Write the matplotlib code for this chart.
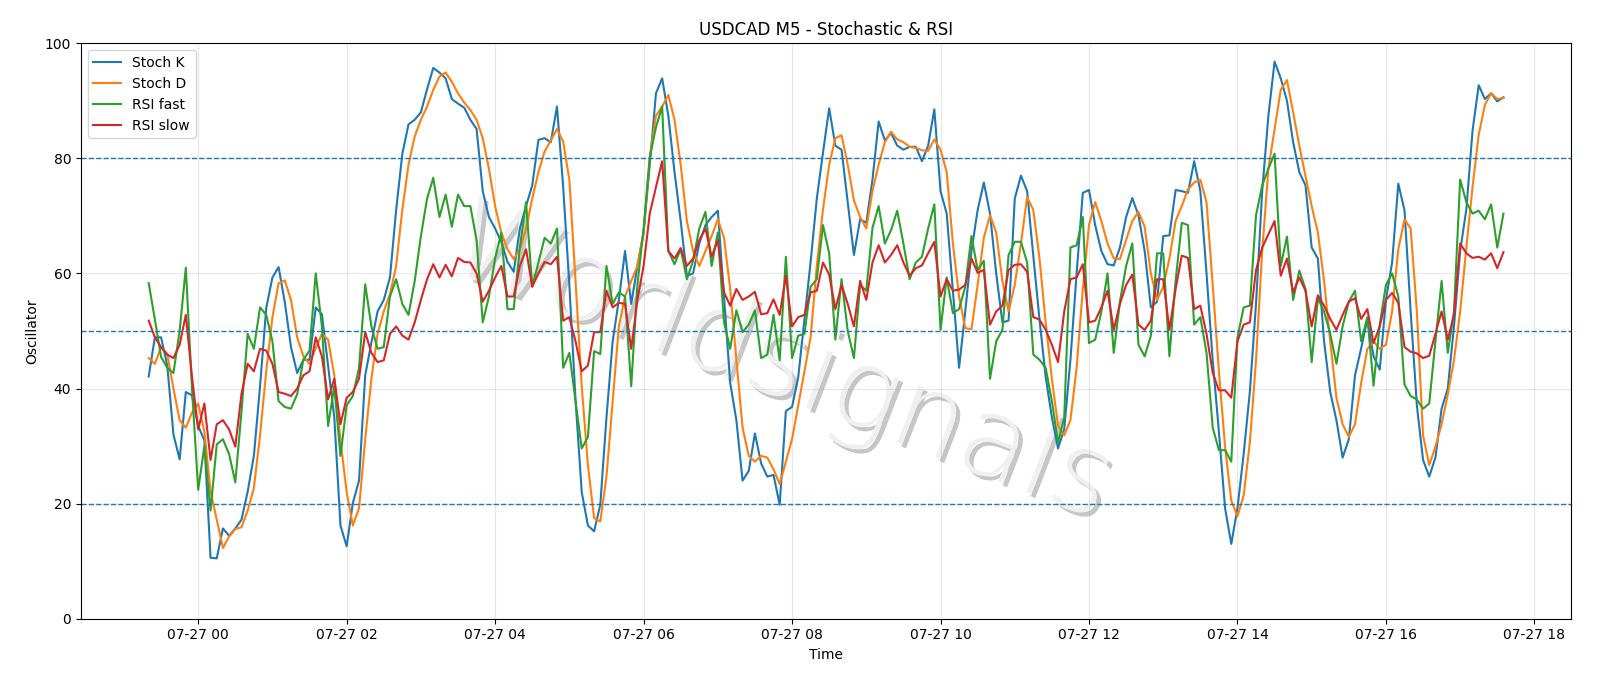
import pandas as pd
import numpy as np
import matplotlib
matplotlib.use('Agg')
import matplotlib.pyplot as plt
import matplotlib.dates as mdates
import matplotlib.patheffects as pe

# M5 bars, first bar 07-26 23:20
start_time = '2020-07-26 23:20'

stoch_k = [
    42.1, 48.9, 48.9, 44, 32, 27.7, 39.4, 38.8, 33.5, 31,
    10.6, 10.5, 15.7, 14.4, 15.7, 17.2, 22.1, 28.3, 40.4, 54,
    59.3, 61.1, 55, 47.2, 42.7, 45, 45, 54.1, 52.9, 44,
    35, 16.2, 12.6, 20.1, 24, 42.3, 48, 53.4, 55.4, 59.3,
    71, 80.8, 85.9, 86.7, 88, 92, 95.7, 94.9, 93.9, 90.3,
    89.5, 88.8, 86.7, 85.1, 74.3, 69.8, 67.8, 65.5, 62, 60.3,
    67.8, 71.7, 75.3, 83.2, 83.5, 82.8, 89, 75, 58, 38,
    22, 16.2, 15.2, 19.8, 35, 48.2, 55.4, 63.9, 54.7, 61.3,
    67.1, 78.9, 91.3, 93.9, 87.4, 77.6, 69.1, 59.6, 60, 65.2,
    68.4, 69.8, 70.9, 56, 41, 34.5, 24, 25.7, 32.2, 27,
    24.7, 25, 19.8, 36.1, 36.8, 42, 52, 62, 73, 81,
    88.7, 82.2, 81.5, 72.4, 63.2, 69.4, 68.8, 76.3, 86.4, 83.1,
    84.4, 82.2, 81.5, 82, 82, 79.5, 82.2, 88.5, 74.3, 70.4,
    57, 43.6, 53.4, 63.9, 71, 75.8, 70.4, 60, 51.5, 51.8,
    73, 77, 74.3, 63, 52, 42, 35, 29.6, 33, 45,
    60, 74, 74.5, 68.4, 63.9, 61.6, 61.4, 64.5, 69.8, 73.1,
    70.1, 63.9, 54.1, 55.1, 66.5, 66.6, 74.5, 74.3, 74, 79.5,
    74.3, 60, 44.9, 32.5, 19.2, 13, 19.2, 28.6, 39.4, 54.7,
    74.3, 87.4, 96.8, 93.9, 90, 82.8, 77.6, 75.3, 64.5, 62.6,
    48.2, 39.4, 34.5, 28, 31.2, 42.3, 47, 52.1, 45.6, 43.3,
    55.4, 61.9, 75.6, 71, 53.4, 37.1, 27.6, 24.7, 28, 36.5,
    40, 50.8, 63.9, 71.1, 84.8, 92.7, 90.3, 91.3, 89.9, 90.6,
]

stoch_d = [
    45.3, 44.3, 47.2, 46, 40, 34.5, 33.2, 35.8, 37.4, 32.5,
    22.1, 17.2, 12.3, 14.3, 15.6, 15.9, 18.8, 22.7, 31.9, 43,
    52.4, 58.3, 58.8, 55.4, 48.9, 45.6, 44.3, 47, 49.5, 48.5,
    42.3, 31, 22, 16.2, 19.2, 31.2, 41.7, 49.5, 53.4, 56.4,
    61.3, 71.1, 78.9, 83.8, 86.7, 89, 91.9, 94.2, 94.9, 93.3,
    91.3, 89.7, 88.4, 86.7, 83.5, 78.2, 71.7, 67.1, 64.2, 62.5,
    64.2, 67.8, 73, 77.6, 81.2, 83.1, 85.1, 82.9, 76.3, 58.7,
    40.4, 26.7, 17.5, 16.9, 24.7, 37.8, 50.8, 56, 58.7, 61.3,
    67.1, 80.2, 87.4, 89, 91, 86.7, 78.9, 69.1, 63.9, 61.3,
    63.9, 66.5, 69.4, 66.2, 57.3, 45, 33.2, 28.3, 27.3, 28.3,
    28, 26, 23.4, 27.3, 31.2, 37.1, 43, 48.9, 61.3, 71.1,
    78.9, 83.5, 84, 78.9, 72.7, 69.8, 67.8, 74.3, 78.9, 82.8,
    84.6, 83.3, 82.8, 82, 81.8, 81.4, 81.3, 83.3, 81.5, 77.6,
    65.2, 56, 50.5, 50.3, 58, 66.2, 70.1, 67.1, 58.7, 53.4,
    58, 65.2, 73.3, 71, 62.6, 51.5, 41.7, 33.5, 31.9, 34.5,
    43.6, 57.3, 68.4, 72.4, 69.1, 65.2, 62.6, 62.5, 65.8, 69.1,
    70.7, 68.1, 60, 55.4, 57.7, 62.6, 69.1, 71.7, 74.6, 75.8,
    76.3, 72.4, 58, 43, 29.9, 20.5, 17.8, 21.4, 30.6, 44.9,
    63.9, 78.2, 85.1, 91.9, 93.6, 88, 82.2, 76.9, 71.7, 67.1,
    58.7, 48.2, 38.4, 33.8, 31.6, 33.8, 41, 46.9, 48.2, 46.9,
    47.6, 53.4, 64.2, 69.4, 67.8, 53.4, 31.9, 26.7, 29.9, 33.8,
    39, 44.9, 53.4, 64.5, 75, 84.1, 89.3, 91.3, 90.3, 90.5,
]

rsi_fast = [
    58.3, 52, 45.5, 43.6, 42.7, 50, 61, 40, 22.4, 30,
    18.8, 30.3, 31.2, 28.6, 23.7, 36, 49.5, 46.9, 54.1, 52.8,
    48.2, 37.8, 36.8, 36.5, 39, 45, 46.6, 60, 50.8, 33.5,
    40.4, 28.3, 37.1, 38.7, 43.6, 58.1, 50.8, 46.9, 47.2, 56,
    59, 54.7, 52.8, 58.7, 66.5, 73, 76.6, 69.8, 73.7, 68.1,
    73.7, 71.7, 71.7, 65.8, 51.5, 56, 62.6, 67.1, 53.8, 53.8,
    64.5, 72.4, 57.7, 61.9, 66.2, 65.2, 67.8, 43.6, 46.2, 37.8,
    29.6, 31.6, 46.5, 46, 61.3, 54.7, 56.7, 56, 40.4, 58,
    67.8, 80.2, 85.4, 89, 63.9, 61.6, 64.2, 59, 62.2, 67.8,
    70.7, 61.3, 67.1, 51.5, 46.9, 53.6, 49.8, 51.1, 53.6, 45.3,
    45.9, 52.8, 44.9, 62.9, 45.3, 49.2, 49.5, 57.7, 59, 68.4,
    63.5, 48.5, 59, 50, 45.3, 58, 57, 67.9, 71.7, 65.2,
    67.5, 70.9, 65.2, 59, 61.9, 62.9, 67.8, 72, 50.2, 59.3,
    53.1, 53.8, 57.7, 66.5, 60.6, 62.2, 41.7, 48.2, 50.2, 63.2,
    65.5, 65.5, 61.9, 45.9, 45, 43.6, 37.8, 30.6, 35, 64.5,
    64.9, 69.8, 47.9, 48.5, 53.4, 60, 46.2, 55.1, 61.3, 65.2,
    47.6, 45.6, 49.2, 63.5, 63.5, 45.6, 58.7, 68.8, 68.4, 51.1,
    52.4, 46.2, 33.2, 29.3, 29.3, 27.3, 48.9, 54.1, 54.4, 70.1,
    75.3, 78.2, 80.8, 61.3, 66.4, 55.4, 60.5, 57.3, 44.6, 55.7,
    53.4, 49.5, 44.3, 50.8, 55.1, 57, 48.2, 52.4, 40.5, 51.1,
    58, 60, 56, 40.7, 38.7, 38.1, 36.5, 37.4, 48.2, 58.7,
    46.2, 53.4, 76.3, 72.4, 70.4, 70.9, 69.4, 72, 64.5, 70.4,
]

rsi_slow = [
    51.8, 48.9, 47.2, 45.9, 45.3, 47.6, 52.8, 42, 32.9, 37.4,
    27.6, 33.8, 34.5, 32.9, 29.9, 39.1, 44.3, 43, 46.9, 46.6,
    44.3, 39.4, 39.1, 38.7, 40, 42.3, 43, 48.9, 45.6, 38.1,
    41.7, 33.8, 38.4, 39.4, 41.7, 49.8, 46.2, 44.6, 44.9, 49.5,
    50.8, 49.2, 48.5, 51.5, 55.4, 59, 61.6, 59.3, 61.5, 59.5,
    62.7, 62, 61.9, 60, 55.1, 57, 59.3, 61.3, 56, 56,
    61.3, 64.2, 57.7, 60, 62, 61.6, 62.9, 51.8, 52.4, 48.2,
    43, 44, 49.8, 49.8, 57, 54.1, 54.9, 54.7, 46.9, 55.4,
    61.3, 70.4, 75, 79.5, 63.9, 62.6, 64.4, 61.3, 62.6, 65.8,
    67.8, 62.9, 65.8, 56.7, 54.4, 57.3, 55.4, 56, 56.8, 52.9,
    53.1, 55.5, 52.8, 59.6, 50.8, 52.4, 52.8, 56.7, 57, 61.9,
    59.8, 53.8, 58, 54.7, 50.8, 58.7, 55.4, 61.9, 64.9, 61.9,
    63.2, 64.9, 61.9, 59.6, 60.9, 61.4, 63.5, 65.5, 56, 59,
    57, 57.2, 58, 62.6, 60.1, 60.6, 51.1, 53.4, 54.4, 60.6,
    61.5, 61.6, 60.3, 52.4, 52, 50.2, 47.6, 44.6, 53.4, 59,
    59.3, 61.6, 51.5, 51.8, 54.1, 57, 50.2, 54.7, 58, 59.8,
    51.1, 50.2, 51.8, 59, 59, 50.2, 57.3, 63.1, 62.7, 53.8,
    54.4, 49.5, 42.7, 39.7, 39.7, 38.4, 48.2, 51.1, 51.5, 60.6,
    64.5, 66.8, 69.1, 59.6, 62.6, 56.7, 59.3, 57, 50.8, 56.2,
    54.4, 52.1, 50.2, 52.8, 55.1, 55.7, 52.1, 53.8, 47.9, 50.8,
    55.4, 56.6, 54.9, 47.2, 46.4, 46.1, 45.3, 45.7, 49.5, 53.4,
    48.5, 52.8, 65.2, 63.5, 62.7, 62.9, 62.4, 63.5, 60.9, 63.7,
]

levels = [80, 50, 20]

times = pd.date_range(start_time, periods=len(stoch_k), freq='5min')

fig, ax = plt.subplots(figsize=(16, 6.86), dpi=100)
fig.subplots_adjust(left=0.0506, right=0.982, top=0.937, bottom=0.098)

ax.plot(times, stoch_k, label='Stoch K')
ax.plot(times, stoch_d, label='Stoch D')
ax.plot(times, rsi_fast, label='RSI fast')
ax.plot(times, rsi_slow, label='RSI slow')
for lv in levels:
    ax.axhline(lv, color='tab:blue', linestyle='--', linewidth=1)

ax.set_ylim(0, 100)
ax.xaxis.set_major_locator(mdates.HourLocator(interval=2))
ax.xaxis.set_major_formatter(mdates.DateFormatter('%m-%d %H'))
ax.grid(True, alpha=0.3)
ax.set_title('USDCAD M5 - Stochastic & RSI')
ax.set_xlabel('Time')
ax.set_ylabel('Oscillator')
ax.legend(loc='upper left')

# watermark
ax.text(0.47, 0.44, 'Worldsignals', transform=ax.transAxes, fontsize=80,
        color='#f0f0f0', rotation=-21, ha='center', va='center',
        fontweight='light', zorder=0,
        path_effects=[pe.withSimplePatchShadow(offset=(3, -3),
                                               shadow_rgbFace='#b8b8b8',
                                               alpha=0.8)])

fig.savefig('out.png', dpi=100)
